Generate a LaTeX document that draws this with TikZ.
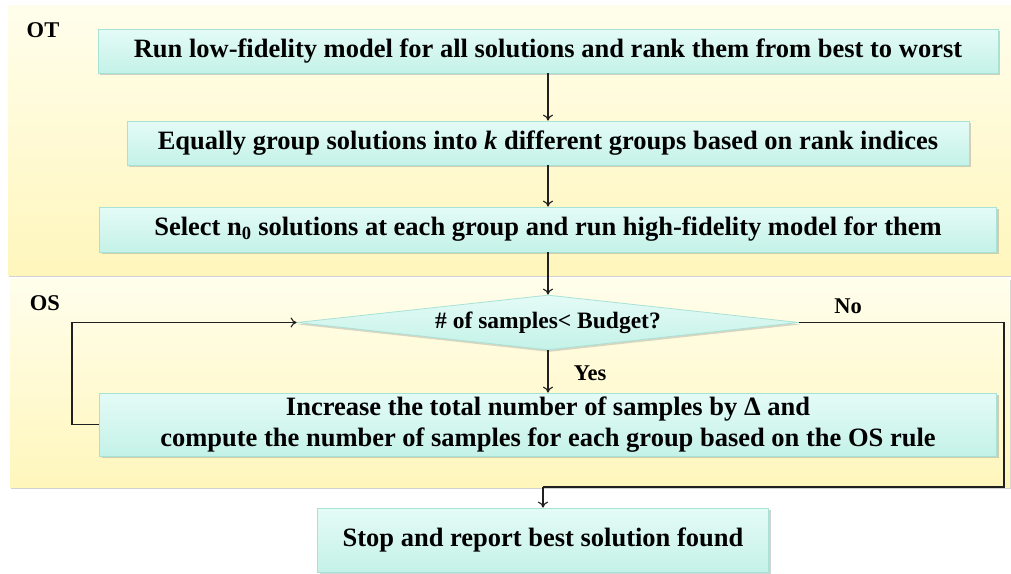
\documentclass[tikz,border=0pt]{standalone}
\usepackage{fontspec}
\setmainfont{Liberation Serif}
\usetikzlibrary{shapes.geometric,shadows,arrows.meta}
\definecolor{panTop}{HTML}{FFFEEC}
\definecolor{panBot}{HTML}{FFF6BC}
\definecolor{boxTop}{HTML}{E4FBF6}
\definecolor{boxBot}{HTML}{C4F2E8}
\definecolor{boxLine}{HTML}{A8E2D6}
\definecolor{lineCol}{HTML}{202020}
\tikzset{
  panel/.style={draw=none, top color=panTop, bottom color=panBot,
     drop shadow={shadow xshift=1pt, shadow yshift=-2pt, opacity=0.35}},
  stepbox/.style={draw=boxLine, line width=0.8pt, top color=boxTop, bottom color=boxBot,
     inner sep=0pt, font=\bfseries\fontsize{26.5}{31}\selectfont,
     drop shadow={shadow xshift=2pt, shadow yshift=-2pt, opacity=0.35}},
  decision/.style={diamond, draw=boxLine, line width=0.8pt, top color=boxTop, bottom color=boxBot,
     inner sep=0pt, aspect=9.1, minimum width=502pt, minimum height=55pt,
     font=\bfseries\fontsize{23.5}{28}\selectfont,
     drop shadow={shadow xshift=1pt, shadow yshift=-2pt, opacity=0.3}},
  lbl/.style={font=\bfseries\fontsize{22.5}{26}\selectfont, inner sep=0pt},
  conn/.style={draw=lineCol, line width=1.1pt, -{To[length=6pt,width=10pt]}},
  plain/.style={draw=lineCol, line width=1.1pt}
}
\begin{document}
\begin{tikzpicture}[x=1pt,y=-1pt]
\useasboundingbox (0,0) rectangle (1011,573);
\fill[white] (0,0) rectangle (1011,573);
% panels
\path[panel] (8,5) rectangle (1011,275);
\path[panel] (10,278) rectangle (1010,487);
\node[lbl] (ot) at (43,30) {OT};
\node[lbl] (os) at (45,303) {OS};
% steps
\node[stepbox, minimum width=900pt, minimum height=44pt] (b1) at (548,51)
  {Run low-fidelity model for all solutions and rank them from best to worst};
\node[stepbox, minimum width=842pt, minimum height=44pt] (b2) at (548,143)
  {Equally group solutions into \textit{k} different groups based on rank indices};
\node[stepbox, minimum width=897pt, minimum height=45pt] (b3) at (548,229.5)
  {Select n\textsubscript{0} solutions at each group and run high-fidelity model for them};
\node[decision] (d) at (548,322.5) {\# of samples< Budget?};
\node[stepbox, minimum width=897pt, minimum height=63pt, align=center] (b4) at (548,424.5)
  {Increase the total number of samples by Δ and\\compute the number of samples for each group based on the OS rule};
\node[stepbox, minimum width=451pt, minimum height=64pt] (stop) at (543,540)
  {Stop and report best solution found};
\node[lbl] (yes) at (590,373) {Yes};
\node[lbl] (no) at (848,306) {No};
\coordinate (nr) at (1004,322.5);
\coordinate (nb) at (1004,487);
\coordinate (lp) at (72,424.5);
% connectors
\draw[conn] (b1) -- (b2);
\draw[conn] (b2) -- (b3);
\draw[conn] (b3) -- (d);
\draw[conn] (d) -- (b4);
\draw[conn] (b4.west) -- (lp) |- (d.west);
\draw[plain] (d.east) -- (nr) -- (nb) -- (nb -| stop.north);
\draw[conn] (nb -| stop.north) -- (stop.north);
\end{tikzpicture}
\end{document}
